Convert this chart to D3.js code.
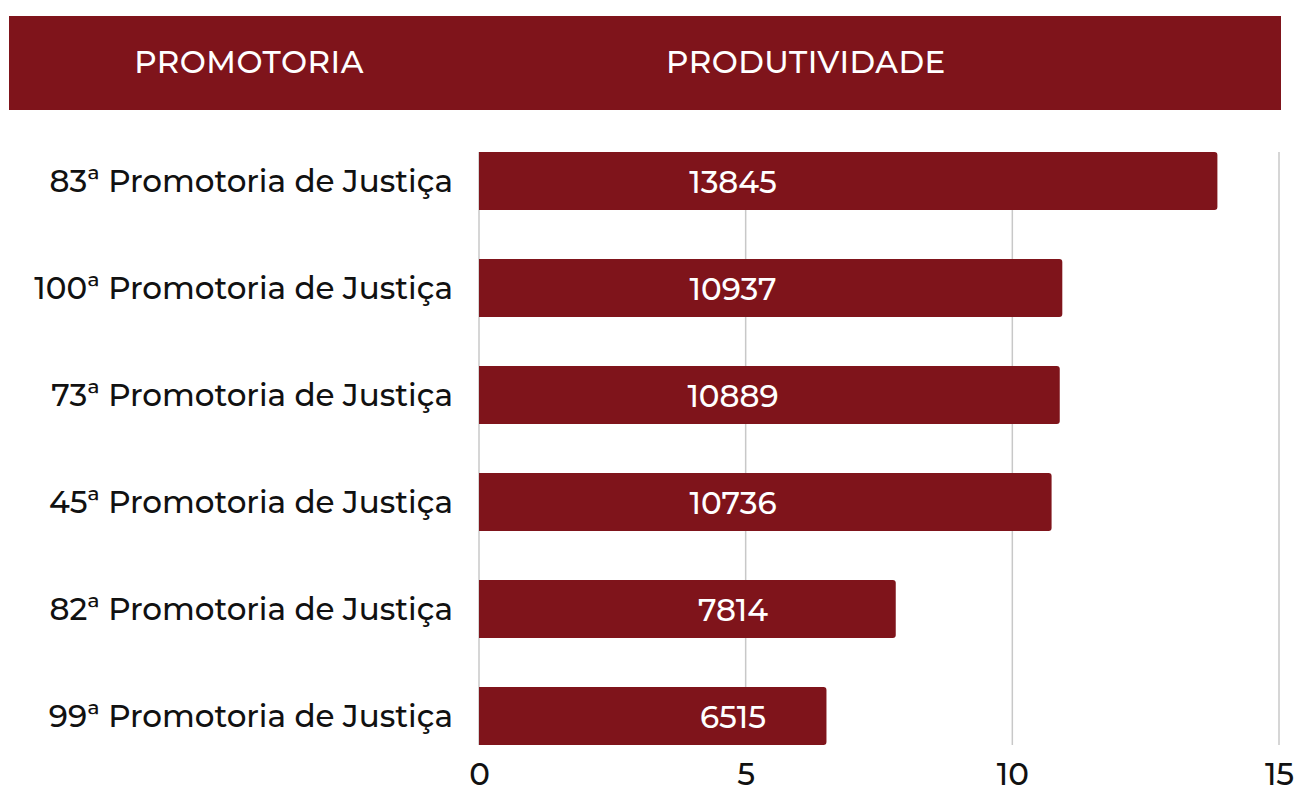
<!DOCTYPE html>
<html>
<head>
<meta charset="utf-8">
<script src="https://cdn.jsdelivr.net/npm/d3@7"></script>
<style>
  body { margin: 0; background: #fff; }
  text { font-family: Montserrat, Inter, "DejaVu Sans", sans-serif; font-weight: 500; }
</style>
</head>
<body>
<div id="chart"></div>
<script>
// data
var categories = ["83ª Promotoria de Justiça", "100ª Promotoria de Justiça", "73ª Promotoria de Justiça",
                  "45ª Promotoria de Justiça", "82ª Promotoria de Justiça", "99ª Promotoria de Justiça"];
var values = [13845, 10937, 10889, 10736, 7814, 6515];
var tickValues = [0, 5, 10, 15];   // axis in thousands
var headers = ["PROMOTORIA", "PRODUTIVIDADE"];

var W = 1297, H = 794;
var red = "#7f141b";

var svg = d3.select("#chart").append("svg")
    .attr("width", W)
    .attr("height", H);

// header band
svg.append("rect")
    .attr("x", 9).attr("y", 16)
    .attr("width", 1272).attr("height", 94)
    .attr("fill", red);

var headerX = [249, 806];
svg.selectAll(".hdr").data(headers).enter().append("text")
    .attr("class", "hdr")
    .attr("x", function(d, i) { return headerX[i]; })
    .attr("y", 73)
    .attr("text-anchor", "middle")
    .attr("fill", "#fff")
    .style("font-size", "31px")
    .style("letter-spacing", "0.5px")
    .text(function(d) { return d; });

var x = d3.scaleLinear()
    .domain([0, 15])
    .range([479, 1279]);

var y = d3.scaleBand()
    .domain(categories)
    .range([152, 745])
    .paddingInner(0.458)
    .paddingOuter(0);

// grid lines
svg.append("g").selectAll("line").data(tickValues).enter().append("line")
    .attr("x1", function(d) { return x(d); })
    .attr("x2", function(d) { return x(d); })
    .attr("y1", 152).attr("y2", 745)
    .attr("stroke", "#c8c8c8")
    .attr("stroke-width", 1.5);

// bars with slightly rounded right end
var r = 3;
svg.append("g").selectAll("path").data(values).enter().append("path")
    .attr("fill", red)
    .attr("d", function(d, i) {
        var x0 = x(0), x1 = x(d / 1000), y0 = y(categories[i]), h = y.bandwidth();
        return "M" + x0 + "," + y0 + "H" + (x1 - r) +
            "Q" + x1 + "," + y0 + " " + x1 + "," + (y0 + r) +
            "V" + (y0 + h - r) +
            "Q" + x1 + "," + (y0 + h) + " " + (x1 - r) + "," + (y0 + h) +
            "H" + x0 + "Z";
    });

// value labels (all sit in one column)
var labelX = 733;
svg.append("g").selectAll("text").data(values).enter().append("text")
    .attr("x", labelX)
    .attr("y", function(d, i) { return y(categories[i]) + y.bandwidth() / 2 + 12; })
    .attr("text-anchor", "middle")
    .attr("fill", "#fff")
    .style("font-size", "31px")
    .text(function(d) { return d; });

// category labels
svg.append("g").selectAll("text").data(categories).enter().append("text")
    .attr("x", 453)
    .attr("y", function(d) { return y(d) + y.bandwidth() / 2 + 11; })
    .attr("text-anchor", "end")
    .attr("fill", "#111")
    .style("font-size", "31px")
    .text(function(d) { return d; });

// x axis
var xAxis = d3.axisBottom(x).tickValues(tickValues).tickSize(0).tickPadding(0);
var gx = svg.append("g")
    .attr("transform", "translate(0,763)")
    .call(xAxis);
gx.select(".domain").remove();
gx.selectAll("text")
    .attr("dy", "0.71em")
    .attr("fill", "#111")
    .style("font-size", "31px")
    .style("font-weight", "500")
    .style("font-family", "Montserrat, Inter, 'DejaVu Sans', sans-serif");
</script>
</body>
</html>
